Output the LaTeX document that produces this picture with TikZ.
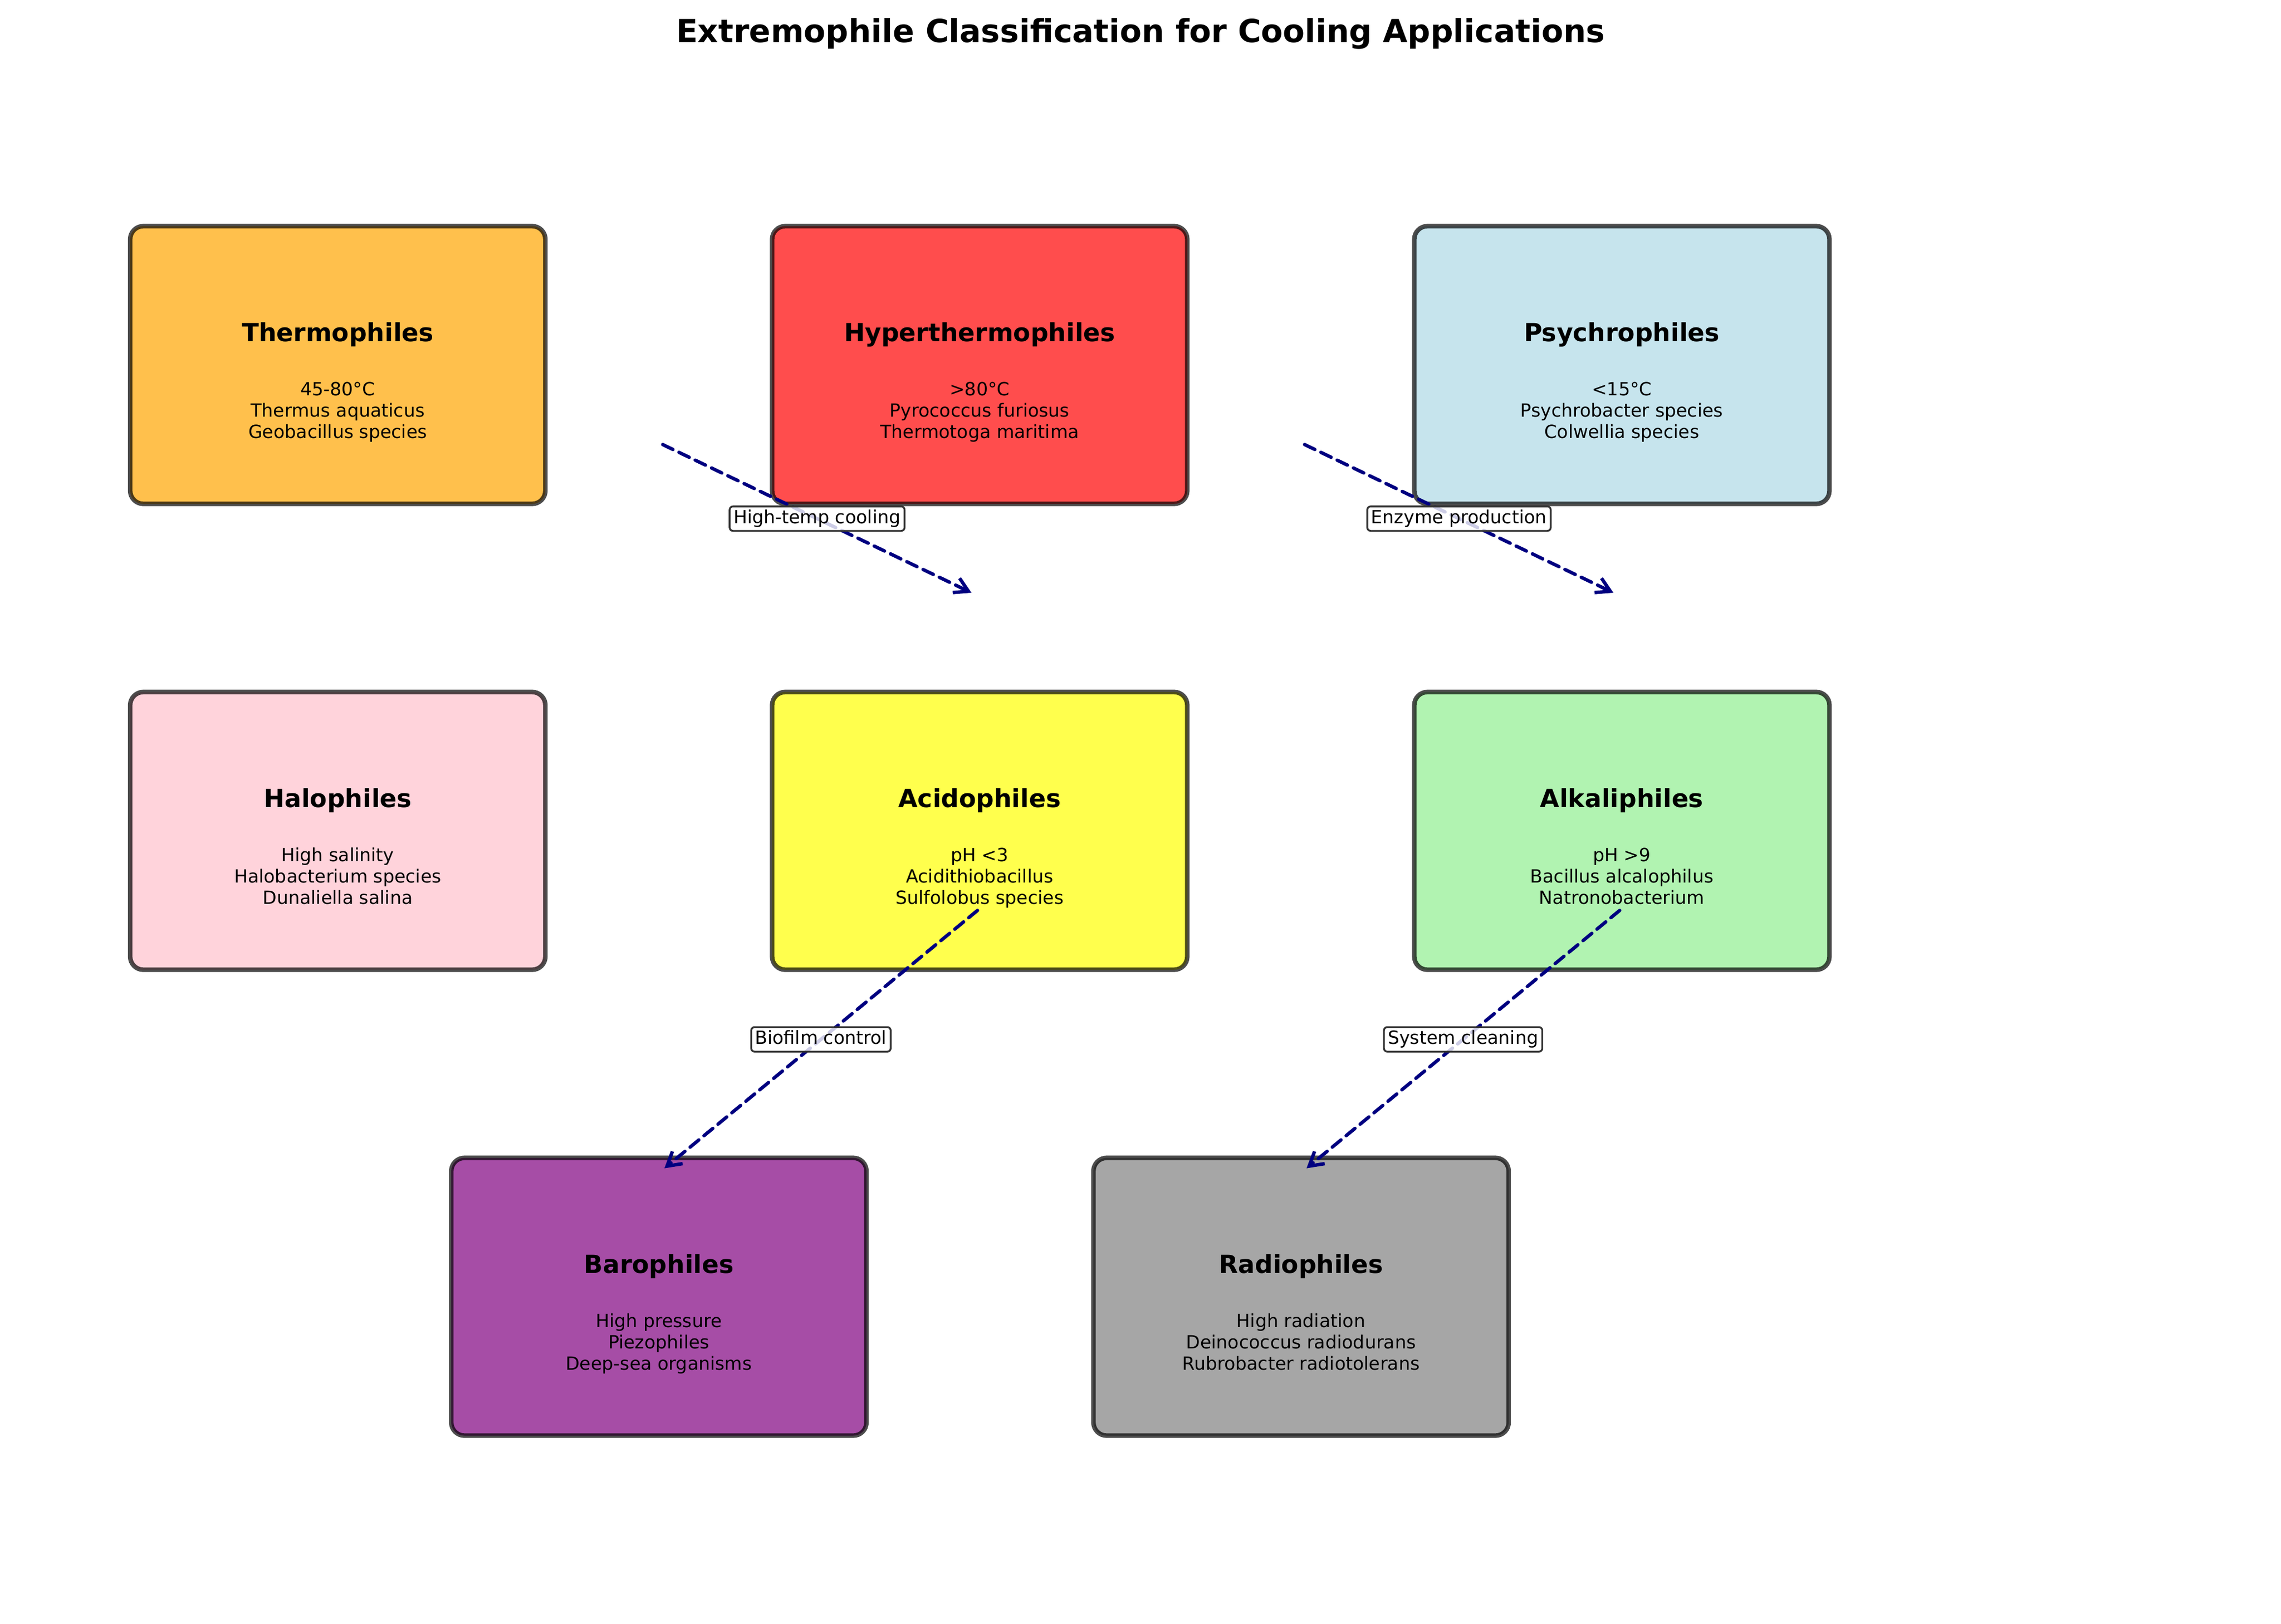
\documentclass[tikz,border=0pt]{standalone}
\usepackage{fontspec}
\setmainfont{DejaVu Sans}
\usetikzlibrary{arrows.meta}

\definecolor{thermoC}{RGB}{255,192,76}
\definecolor{hyperC}{RGB}{255,77,77}
\definecolor{psychroC}{RGB}{198,228,237}
\definecolor{haloC}{RGB}{255,211,219}
\definecolor{acidoC}{RGB}{255,255,77}
\definecolor{alkaliC}{RGB}{177,243,177}
\definecolor{baroC}{RGB}{166,77,166}
\definecolor{radioC}{RGB}{166,166,166}
\definecolor{linkC}{RGB}{0,0,128}

\begin{document}
\begin{tikzpicture}[x=0.846667cm, y=-0.846667cm,
    microbox/.style={rectangle, rounded corners=5.8pt, draw=black, draw opacity=0.7,
        line width=2pt, minimum width=6.426cm, minimum height=4.301cm, inner sep=0pt},
    boxname/.style={anchor=base, font=\fontsize{11}{13}\selectfont\bfseries, inner sep=0pt},
    boxinfo/.style={anchor=base, align=center, font=\fontsize{8}{9.33}\selectfont, inner sep=0pt},
    heading/.style={anchor=base, font=\fontsize{14}{17}\selectfont\bfseries, inner sep=0pt},
    link/.style={draw=linkC, line width=1.5pt, line cap=round, dash pattern=on 5pt off 2.95pt,
        -{Straight Barb[length=6pt,width=7pt]}},
    linklabel/.style={solid, draw=black!80, line width=0.8pt, rounded corners=1.5pt,
        fill=white, fill opacity=0.8, text opacity=1, text=black,
        font=\fontsize{8}{9.6}\selectfont, inner xsep=1.75pt, inner ysep=0pt,
        text height=7.6pt, text depth=3.2pt}]

    \useasboundingbox (0,0) rectangle (41.70,29.70);

    \node[heading] (title) at (20.85,0.776) {Extremophile Classification for Cooling Applications};

    % top row
    \node[microbox, fill=thermoC] (therm) at (6.175,6.675) {};
    \node[boxname] (thermName) at (6.175,6.24) {Thermophiles};
    \node[boxinfo] (thermInfo) at (6.175,8.0125) {45-80°C\\Thermus aquaticus\\Geobacillus species};

    \node[microbox, fill=hyperC] (hyper) at (17.91,6.675) {};
    \node[boxname] (hyperName) at (17.91,6.24) {Hyperthermophiles};
    \node[boxinfo] (hyperInfo) at (17.91,8.0125) {>80°C\\Pyrococcus furiosus\\Thermotoga maritima};

    \node[microbox, fill=psychroC] (psychro) at (29.65,6.675) {};
    \node[boxname] (psychroName) at (29.65,6.24) {Psychrophiles};
    \node[boxinfo] (psychroInfo) at (29.65,8.0125) {<15°C\\Psychrobacter species\\Colwellia species};

    % middle row
    \node[microbox, fill=haloC] (halo) at (6.175,15.195) {};
    \node[boxname] (haloName) at (6.175,14.76) {Halophiles};
    \node[boxinfo] (haloInfo) at (6.175,16.5325) {High salinity\\Halobacterium species\\Dunaliella salina};

    \node[microbox, fill=acidoC] (acido) at (17.91,15.195) {};
    \node[boxname] (acidoName) at (17.91,14.76) {Acidophiles};
    \node[boxinfo] (acidoInfo) at (17.91,16.5325) {pH <3\\Acidithiobacillus\\Sulfolobus species};

    \node[microbox, fill=alkaliC] (alkali) at (29.65,15.195) {};
    \node[boxname] (alkaliName) at (29.65,14.76) {Alkaliphiles};
    \node[boxinfo] (alkaliInfo) at (29.65,16.5325) {pH >9\\Bacillus alcalophilus\\Natronobacterium};

    % bottom row
    \node[microbox, fill=baroC] (baro) at (12.045,23.715) {};
    \node[boxname] (baroName) at (12.045,23.28) {Barophiles};
    \node[boxinfo] (baroInfo) at (12.045,25.0525) {High pressure\\Piezophiles\\Deep-sea organisms};

    \node[microbox, fill=radioC] (radio) at (23.785,23.715) {};
    \node[boxname] (radioName) at (23.785,23.28) {Radiophiles};
    \node[boxinfo] (radioInfo) at (23.785,25.0525) {High radiation\\Deinococcus radiodurans\\Rubrobacter radiotolerans};

    % applications
    \coordinate (hotA) at (12.115,8.13);
    \coordinate (hotB) at (17.76,10.84);
    \coordinate (enzA) at (23.85,8.13);
    \coordinate (enzB) at (29.495,10.84);
    \coordinate (bioA) at (17.87,16.65);
    \coordinate (bioB) at (12.146,21.366);
    \coordinate (cleanA) at (29.61,16.65);
    \coordinate (cleanB) at (23.885,21.366);

    \draw[link] (hotA) -- node[linklabel] (hotLbl) {High-temp cooling} (hotB);
    \draw[link] (enzA) -- node[linklabel] (enzLbl) {Enzyme production} (enzB);
    \draw[link] (bioA) -- node[linklabel] (bioLbl) {Biofilm control} (bioB);
    \draw[link] (cleanA) -- node[linklabel] (cleanLbl) {System cleaning} (cleanB);
\end{tikzpicture}
\end{document}
